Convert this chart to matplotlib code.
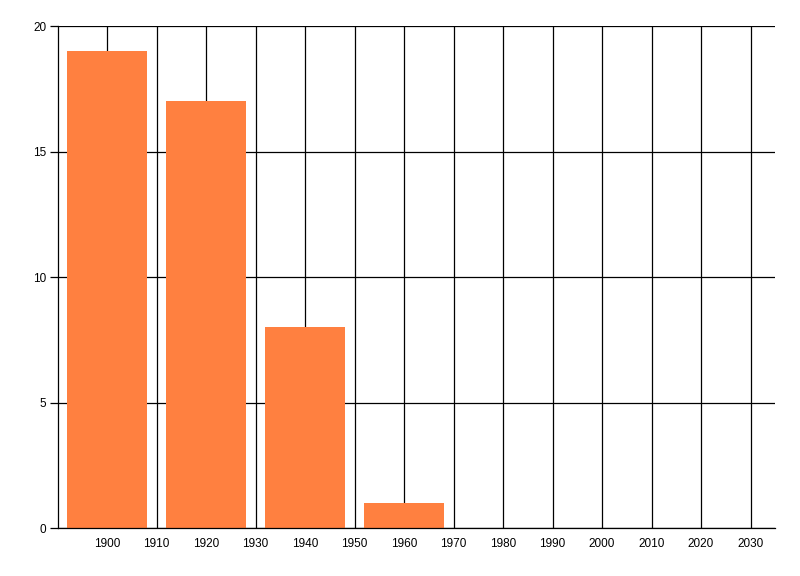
import matplotlib
matplotlib.use("Agg")
import matplotlib.pyplot as plt

# valores
years = [1900, 1920, 1940, 1960]
counts = [19, 17, 8, 1]
x_ticks = list(range(1900, 2031, 10))
y_ticks = [0, 5, 10, 15, 20]

plt.rcParams['font.family'] = ['Liberation Sans', 'DejaVu Sans']

fig = plt.figure(figsize=(8, 5.76), dpi=100)
ax = fig.add_axes([0.0719, 0.0833, 0.8972, 0.8715])

ax.bar(years, counts, width=16, color="#FF8040", zorder=2)

ax.set_xlim(1890, 2035)
ax.set_ylim(0, 20)
ax.set_xticks(x_ticks)
ax.set_yticks(y_ticks)

ax.set_axisbelow(True)
ax.grid(True, color="black", linewidth=0.9)

for side in ["top", "right"]:
    ax.spines[side].set_visible(False)
for side in ["left", "bottom"]:
    ax.spines[side].set_linewidth(0.9)

ax.tick_params(axis="x", length=0, pad=7, labelsize=8.5)
ax.tick_params(axis="y", length=6, width=0.9, pad=2, labelsize=8.5)

plt.savefig("out.png", dpi=100)
